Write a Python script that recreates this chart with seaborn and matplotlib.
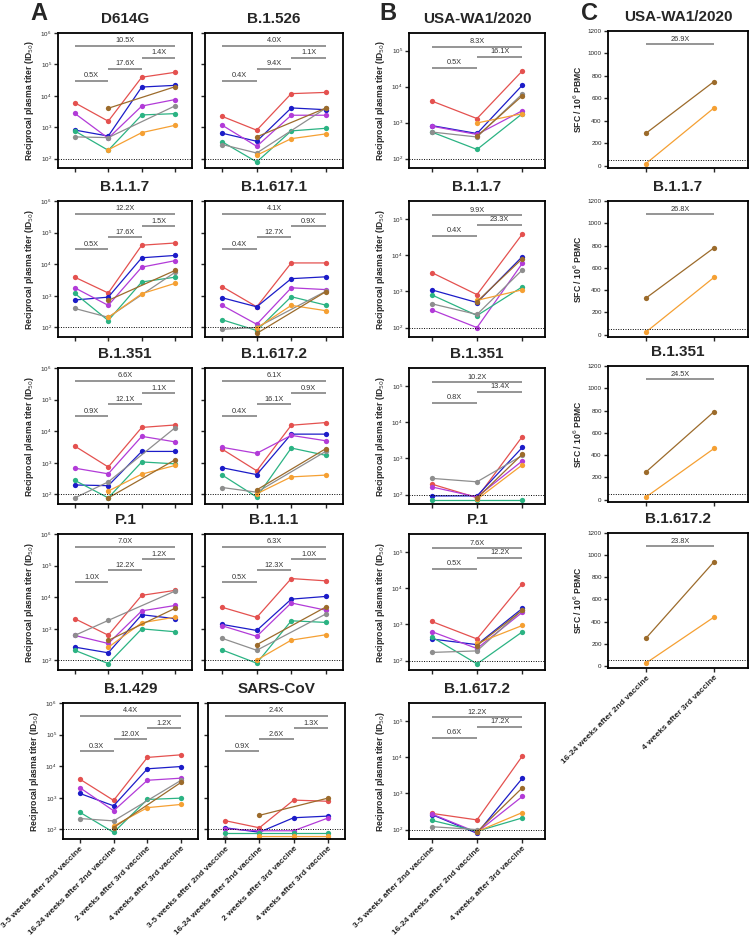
import numpy as np
import pandas as pd
import matplotlib.pyplot as plt
from matplotlib.ticker import NullLocator
import seaborn as sns

nan = np.nan

# donors, same colour in every panel
DONORS = ['d1', 'd2', 'd3', 'd4', 'd5', 'd6', 'd7']
COLORS = ['#E4514F', '#1C1CC8', '#B23BD8', '#2BB383', '#8E8E8E', '#F5A033', '#9C6B2B']

A_TIMES = ['3-5 weeks after 2nd vaccine', '16-24 weeks after 2nd vaccine',
           '2 weeks after 3rd vaccine', '4 weeks after 3rd vaccine']
B_TIMES = ['3-5 weeks after 2nd vaccine', '16-24 weeks after 2nd vaccine',
           '4 weeks after 3rd vaccine']
C_TIMES = ['16-24 weeks after 2nd vaccine', '4 weeks after 3rd vaccine']

# ---- panel A: reciprocal plasma titer (ID50), one list per donor
A_D614G = {'d1': [6000, 1550, 39000, 56000], 'd2': [810, 520, 19000, 21500],
           'd3': [2750, 445, 4700, 7600], 'd4': [760, 183, 2450, 2700],
           'd5': [490, 465, nan, 4800], 'd6': [nan, 190, 670, 1150],
           'd7': [nan, 4000, nan, 19500]}
A_B1526 = {'d1': [2200, 800, 11700, 12800], 'd2': [640, 355, 4100, 3600],
           'd3': [1150, 245, 2400, 2400], 'd4': [340, 78, 760, 920],
           'd5': [280, 150, nan, 4000], 'd6': [nan, 128, 430, 610],
           'd7': [nan, 490, nan, 4050]}
A_B117 = {'d1': [3900, 1230, 40000, 47000], 'd2': [740, 910, 16000, 19000],
          'd3': [1800, 500, 8100, 13000], 'd4': [1200, 166, 2750, 3900],
          'd5': [400, 210, nan, 5600], 'd6': [nan, 208, 1170, 2500],
          'd7': [nan, 720, nan, 6400]}
A_B16171 = {'d1': [1950, 450, 11000, 11000], 'd2': [870, 450, 3500, 4000],
            'd3': [500, 126, 1800, 1580], 'd4': [175, 80, 940, 510],
            'd5': [88, 100, nan, 1400], 'd6': [nan, 95, 500, 340],
            'd7': [nan, 65, nan, 1350]}
A_B1351 = {'d1': [3400, 740, 13200, 15800], 'd2': [200, 190, 2300, 2300],
           'd3': [680, 450, 6900, 4600], 'd4': [280, 78, 1070, 930],
           'd5': [78, 250, nan, 13000], 'd6': [nan, 128, 440, 830],
           'd7': [nan, 78, nan, 1260]}
A_B16172 = {'d1': [2700, 560, 15500, 18800], 'd2': [700, 425, 8100, 8100],
            'd3': [3100, 2000, 7400, 5000], 'd4': [410, 83, 2950, 1730],
            'd5': [166, 118, nan, 2300], 'd6': [nan, 105, 360, 410],
            'd7': [nan, 140, nan, 2800]}
A_P1 = {'d1': [2100, 630, 11500, 16500], 'd2': [265, 175, 2800, 2100],
        'd3': [620, 345, 3700, 5500], 'd4': [210, 80, 1000, 810],
        'd5': [620, 1850, nan, 15800], 'd6': [nan, 260, 1560, 2350],
        'd7': [nan, 430, nan, 4500]}
A_B111 = {'d1': [4800, 2300, 39000, 33000], 'd2': [1380, 890, 8700, 10600],
          'd3': [1250, 580, 6600, 3900], 'd4': [215, 82, 1800, 1600],
          'd5': [500, 210, nan, 2950], 'd6': [nan, 103, 440, 650],
          'd7': [nan, 315, nan, 4900]}
A_B1429 = {'d1': [3900, 830, 19000, 23000], 'd2': [1380, 560, 8300, 9800],
           'd3': [2100, 390, 3600, 4200], 'd4': [350, 81, 890, 980],
           'd5': [222, 187, nan, 3600], 'd6': [nan, 128, 490, 620],
           'd7': [nan, 115, nan, 3100]}
A_SARS = {'d1': [190, 113, 850, 780], 'd2': [113, 82, 235, 265],
          'd3': [105, 91, 91, 230], 'd4': [79, 79, 79, 79],
          'd5': [55, 55, 55, 55], 'd6': [nan, 63, 63, 63],
          'd7': [nan, 280, nan, 980]}

A_NAMES = ['D614G', 'B.1.526', 'B.1.1.7', 'B.1.617.1', 'B.1.351',
           'B.1.617.2', 'P.1', 'B.1.1.1', 'B.1.429', 'SARS-CoV']
A_DATA = [A_D614G, A_B1526, A_B117, A_B16171, A_B1351,
          A_B16172, A_P1, A_B111, A_B1429, A_SARS]
# fold changes: (0-1, 1-2, 2-3, 0-3)
A_FOLDS = [['0.5X', '17.6X', '1.4X', '10.5X'], ['0.4X', '9.4X', '1.1X', '4.0X'],
           ['0.5X', '17.6X', '1.5X', '12.2X'], ['0.4X', '12.7X', '0.9X', '4.1X'],
           ['0.9X', '12.1X', '1.1X', '6.6X'], ['0.4X', '16.1X', '0.9X', '6.1X'],
           ['1.0X', '12.2X', '1.2X', '7.0X'], ['0.5X', '12.3X', '1.0X', '6.3X'],
           ['0.3X', '12.0X', '1.2X', '4.4X'], ['0.9X', '2.6X', '1.3X', '2.4X']]

# ---- panel B
B_WA1 = {'d1': [4000, 1300, 27500], 'd2': [830, 500, 11000], 'd3': [800, 470, 2150],
         'd4': [550, 180, 1780], 'd5': [550, 400, 6300], 'd6': [nan, 980, 1780],
         'd7': [nan, 420, 5600]}
B_B117 = {'d1': [3300, 810, 38000], 'd2': [1100, 490, 9100], 'd3': [310, 100, 5900],
          'd4': [800, 215, 1330], 'd5': [455, 230, 3900], 'd6': [nan, 565, 1100],
          'd7': [nan, 520, 8000]}
B_B1351 = {'d1': [195, 82, 4000], 'd2': [92, 92, 2000], 'd3': [163, 86, 850],
           'd4': [70, 70, 70], 'd5': [280, 225, 1200], 'd6': [nan, 74, 660],
           'd7': [nan, 80, 1300]}
B_P1 = {'d1': [1200, 395, 13200], 'd2': [395, 275, 2750], 'd3': [630, 215, 2150],
        'd4': [450, 81, 620], 'd5': [168, 185, 2500], 'd6': [nan, 300, 930],
        'd7': [nan, 260, 2450]}
B_B16172 = {'d1': [280, 185, 10700], 'd2': [260, 79, 2600], 'd3': [270, 84, 820],
            'd4': [180, 90, 210], 'd5': [120, 100, nan], 'd6': [nan, 88, 295],
            'd7': [nan, 86, 1420]}
B_NAMES = ['USA-WA1/2020', 'B.1.1.7', 'B.1.351', 'P.1', 'B.1.617.2']
B_DATA = [B_WA1, B_B117, B_B1351, B_P1, B_B16172]
B_FOLDS = [['0.5X', '16.1X', '8.3X'], ['0.4X', '23.3X', '9.9X'],
           ['0.8X', '13.4X', '10.2X'], ['0.5X', '12.2X', '7.6X'],
           ['0.6X', '17.2X', '12.2X']]

# ---- panel C: SFC / 10^6 PBMC
C_WA1 = {'d7': [290, 750], 'd6': [20, 515]}
C_B117 = {'d7': [330, 780], 'd6': [25, 515]}
C_B1351 = {'d7': [250, 790], 'd6': [25, 460]}
C_B16172 = {'d7': [250, 940], 'd6': [25, 440]}
C_NAMES = ['USA-WA1/2020', 'B.1.1.7', 'B.1.351', 'B.1.617.2']
C_DATA = [C_WA1, C_B117, C_B1351, C_B16172]
C_FOLDS = ['26.9X', '26.8X', '24.5X', '23.8X']

PALETTE = dict(zip(DONORS, COLORS))

sns.set_style('ticks')
plt.rcParams['font.family'] = ['Liberation Sans', 'DejaVu Sans']

fig = plt.figure(figsize=(7.5, 9.36), dpi=100)


def px_axes(l, t, r, b):
    return fig.add_axes([l / 750, 1 - b / 936, (r - l) / 750, (b - t) / 936])


def draw_lines(ax, series):
    rows = []
    for donor, vals in series.items():
        for i, v in enumerate(vals):
            if not np.isnan(v):
                rows.append((donor, i, v))
    df = pd.DataFrame(rows, columns=['donor', 'time', 'value'])
    order = [d for d in DONORS if d in series]
    sns.lineplot(data=df, x='time', y='value', hue='donor', hue_order=order,
                 palette=PALETTE, estimator=None, sort=False, marker='o',
                 markersize=3.8, markeredgewidth=0, linewidth=0.9,
                 legend=False, ax=ax)


def brackets(ax, spans, labels):
    for (i, j, y), lab in zip(spans, labels):
        ax.plot([i, j], [y, y], color='#8c8c8c', lw=1.3, solid_capstyle='butt')
        ax.annotate(lab, xy=((i + j) / 2, y), xytext=(0, 1.2),
                    textcoords='offset points', ha='center', va='bottom',
                    fontsize=5.3, color='#333333')


def style(ax, title, xlabels, show_x, show_y, ylabel):
    ax.set_title(title, fontsize=11, fontweight='bold', pad=7)
    for s in ax.spines.values():
        s.set_visible(True)
        s.set_linewidth(1.3)
        s.set_color('black')
    ax.tick_params(direction='out', length=3, width=1, labelsize=4.5, pad=1.5)
    ax.set_xticks(range(len(xlabels)))
    if show_x:
        ax.set_xticklabels(xlabels, rotation=45, ha='right', rotation_mode='anchor',
                           fontsize=6, fontweight='bold')
    else:
        ax.set_xticklabels([])
    if not show_y:
        ax.set_yticklabels([])
    ax.set_xlabel('')
    ax.set_ylabel(ylabel if show_y else '', fontsize=6.2, fontweight='bold', labelpad=3)


YLAB = 'Reciprocal plasma titer (ID$_{50}$)'
ROWS = [(33, 168), (201, 337), (368, 504), (534, 670), (703, 839)]

# panel A
A_SPANS = [(0, 1, 10 ** 4.47), (1, 2, 10 ** 4.85), (2, 3, 10 ** 5.2), (0, 3, 10 ** 5.6)]
for k, (name, data, folds) in enumerate(zip(A_NAMES, A_DATA, A_FOLDS)):
    r, c = divmod(k, 2)
    t, b = ROWS[r]
    if c == 0:
        l, rr = (58, 192) if r < 4 else (63, 198)
    else:
        l, rr = (205, 343) if r < 4 else (208, 345)
    ax = px_axes(l, t, rr, b)
    ax.set_yscale('log')
    draw_lines(ax, data)
    ax.axhline(100, color='black', ls=(0, (1, 1.5)), lw=0.7)
    brackets(ax, A_SPANS, folds)
    ax.set_ylim(50, 1e6)
    ax.set_xlim(-0.5, 3.5)
    ax.set_yticks([1e2, 1e3, 1e4, 1e5, 1e6])
    ax.yaxis.set_minor_locator(NullLocator())
    style(ax, name, A_TIMES, r == 4, c == 0, YLAB)

# panel B
B_SPANS = [(0, 1, 10 ** 4.53), (1, 2, 10 ** 4.83), (0, 2, 10 ** 5.1)]
for r, (name, data, folds) in enumerate(zip(B_NAMES, B_DATA, B_FOLDS)):
    t, b = ROWS[r]
    ax = px_axes(409, t, 545, b)
    ax.set_yscale('log')
    draw_lines(ax, data)
    ax.axhline(100, color='black', ls=(0, (1, 1.5)), lw=0.7)
    brackets(ax, B_SPANS, folds)
    ax.set_ylim(55, 3.1e5)
    ax.set_xlim(-0.5, 2.5)
    ax.set_yticks([1e2, 1e3, 1e4, 1e5])
    ax.yaxis.set_minor_locator(NullLocator())
    style(ax, name, B_TIMES, r == 4, True, YLAB)

# panel C
C_ROWS = [(31, 168), (201, 337), (366, 502), (533, 668)]
for r, (name, data, fold) in enumerate(zip(C_NAMES, C_DATA, C_FOLDS)):
    t, b = C_ROWS[r]
    ax = px_axes(608, t, 748, b)
    draw_lines(ax, data)
    ax.axhline(50, color='black', ls=(0, (1, 1.5)), lw=0.7)
    brackets(ax, [(0, 1, 1080)], [fold])
    ax.set_ylim(-20, 1200)
    ax.set_xlim(-0.56, 1.5)
    ax.set_yticks(range(0, 1201, 200))
    style(ax, name, C_TIMES, r == 3, True, 'SFC / 10$^{6}$ PBMC')

for letter, x in [('A', 39), ('B', 388), ('C', 589)]:
    fig.text(x / 750, 1 - 13 / 936, letter, fontsize=17, fontweight='bold',
             ha='center', va='center')

fig.savefig('out.png', dpi=100)
